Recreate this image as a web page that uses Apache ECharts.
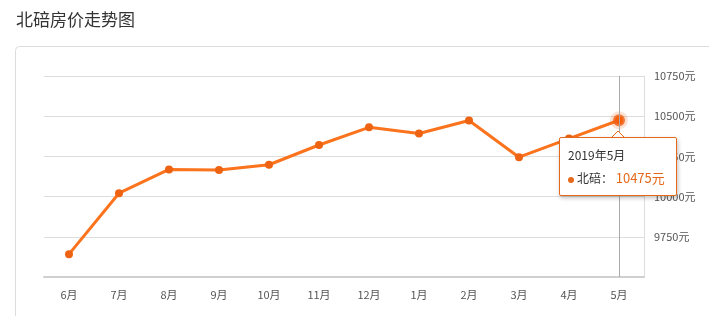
<!DOCTYPE html>
<html><head><meta charset="utf-8">
<script src="https://cdn.jsdelivr.net/npm/echarts@6/dist/echarts.min.js"></script>
<style>html,body{margin:0;padding:0;background:#fff}#c{width:709px;height:316px}</style>
</head><body><div id="c"></div>
<script>
const categories = ['6月','7月','8月','9月','10月','11月','12月','1月','2月','3月','4月','5月'];
const prices = [9642, 10021, 10169, 10165, 10198, 10321, 10431, 10392, 10473, 10245, 10361, 10475];
const tipLabels = ['2018年6月','2018年7月','2018年8月','2018年9月','2018年10月','2018年11月','2018年12月','2019年1月','2019年2月','2019年3月','2019年4月','2019年5月'];
const seriesName = '北碚';
const color = '#e5691a';
const pointColor = '#ee6311';
const chart = echarts.init(document.getElementById('c'));
chart.setOption({
  animation: false,
  title: {text: '北碚房价走势图', left: 11, top: 6, textStyle: {fontSize: 17, fontWeight: 'normal', color: '#333', fontFamily: 'Noto Sans CJK SC'}},
  graphic: [
    {type: 'rect', shape: {x: 15.5, y: 46.5, width: 720, height: 300, r: 4}, style: {fill: 'none', stroke: '#dcdcdc', lineWidth: 1}, z: -1},
    {type: 'polygon', shape: {points: [[611, 138], [618, 131], [625, 138]]}, style: {fill: '#fff', stroke: color, lineWidth: 1}, z: 100}
  ],
  grid: {left: 44, right: 65, top: 76, bottom: 39},
  tooltip: {
    trigger: 'axis', triggerOn: 'none', alwaysShowContent: true,
    position: [559, 137],
    backgroundColor: '#fff', borderColor: color, borderWidth: 1, padding: [8, 8],
    extraCssText: 'box-shadow:1px 2px 4px rgba(0,0,0,0.25);border-radius:2px;width:100px;',
    axisPointer: {type: 'line', lineStyle: {color: '#aaa', width: 1, type: 'solid'}},
    formatter: function (params) {
      const p = params[0];
      return '<div style="font-size:12px;color:#333;line-height:18px;font-family:Noto Sans CJK SC">' + tipLabels[p.dataIndex] + '</div>' +
        '<div style="font-size:12px;color:#333;line-height:18px;margin-top:5px;font-family:Noto Sans CJK SC"><span style="display:inline-block;width:6px;height:6px;border-radius:3px;background:' + color + ';margin-right:3px;vertical-align:middle"></span>' + seriesName + '：&nbsp;<span style="color:' + color + ';font-size:13px">' + p.value + '元</span></div>';
    }
  },
  xAxis: {
    type: 'category', data: categories, boundaryGap: true,
    axisLine: {lineStyle: {color: '#d0d0d0', width: 2}},
    axisTick: {alignWithLabel: true, length: 4, lineStyle: {color: '#ccc'}},
    axisLabel: {color: '#555', fontSize: 11, margin: 12, fontFamily: 'Noto Sans CJK SC'}
  },
  yAxis: {
    type: 'value', position: 'right', min: 9500, max: 10750, interval: 250,
    axisLine: {show: true, lineStyle: {color: '#ddd'}},
    axisTick: {show: false},
    splitLine: {lineStyle: {color: '#ddd'}},
    axisLabel: {formatter: function (v) { return v + '元'; }, showMinLabel: false, color: '#555', fontSize: 11, margin: 10, fontFamily: 'Noto Sans CJK SC'}
  },
  series: [{
    name: seriesName, type: 'line', data: prices,
    symbol: 'circle', symbolSize: 8,
    lineStyle: {color: color, width: 3},
    itemStyle: {color: pointColor},
    emphasis: {scale: false}
  }, {
    type: 'scatter', data: prices.map((v, i) => i === prices.length - 1 ? v : null),
    symbolSize: 12, itemStyle: {color: '#f25a0a', borderColor: 'rgba(240,110,40,0.25)', borderWidth: 6},
    tooltip: {show: false}, silent: true, z: 5
  }]
});
chart.dispatchAction({type: 'showTip', seriesIndex: 0, dataIndex: prices.length - 1});
</script></body></html>
